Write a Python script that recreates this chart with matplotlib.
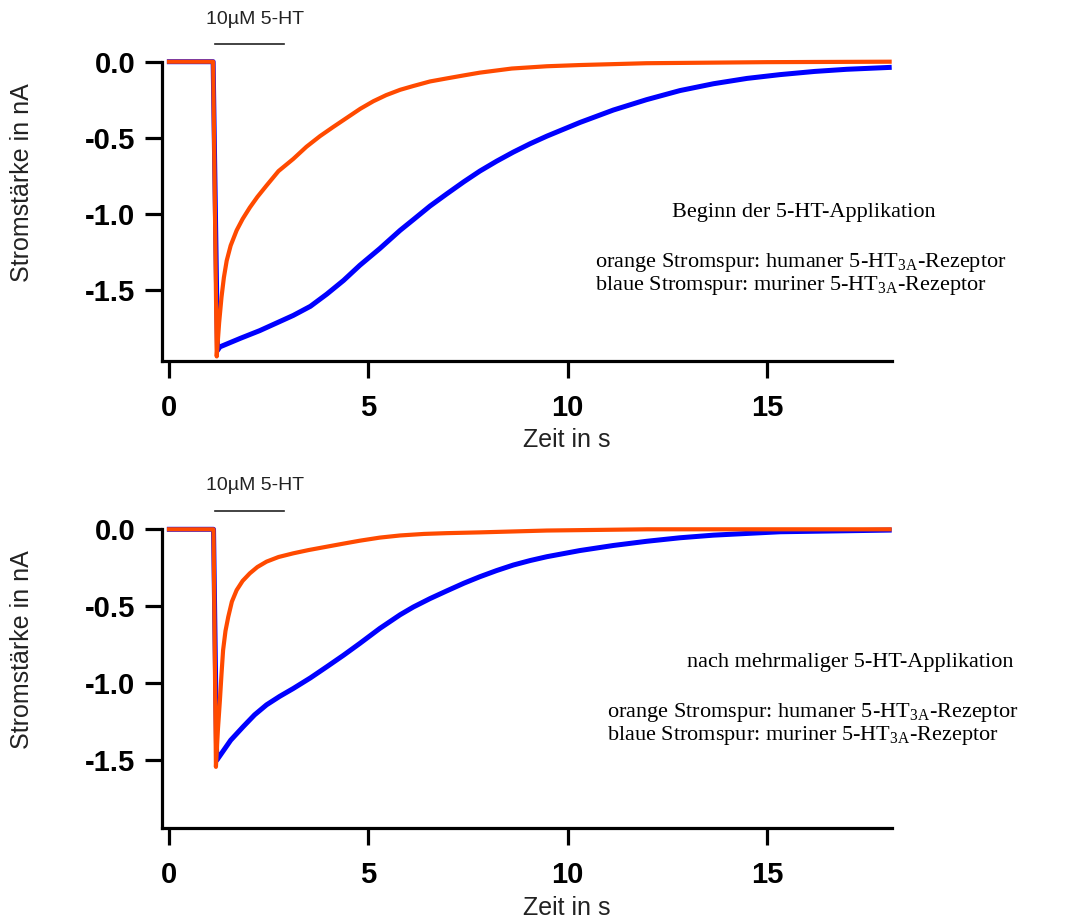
import numpy as np
import matplotlib.pyplot as plt

plt.rcParams['font.family'] = ['Liberation Sans', 'DejaVu Sans']
plt.rcParams['mathtext.fontset'] = 'custom'
plt.rcParams['mathtext.rm'] = 'Liberation Serif'

# application of 10 uM 5-HT (s)
app_start = 1.15
app_end = 2.9

# top panel: first application
t_hum_1 = [-0.05, 1.11, 1.20, 1.26, 1.32, 1.38, 1.45, 1.55, 1.70, 1.85, 2.03, 2.22, 2.45,
           2.75, 3.12, 3.45, 3.79, 4.12, 4.46, 4.80, 5.13, 5.45, 5.80, 6.13, 6.55, 6.97,
           7.40, 7.80, 8.6, 9.48, 10.31, 11.98, 15.0, 18.13]
i_hum_1 = [0.0, 0.0, -1.94, -1.72, -1.55, -1.42, -1.31, -1.21, -1.11, -1.035, -0.96, -0.89,
           -0.815, -0.72, -0.64, -0.56, -0.49, -0.43, -0.37, -0.31, -0.26, -0.22, -0.185,
           -0.16, -0.13, -0.11, -0.09, -0.072, -0.045, -0.03, -0.022, -0.01, -0.003, 0.0]
t_mur_1 = [-0.05, 1.11, 1.22, 1.28, 1.8, 2.28, 2.7, 3.12, 3.55, 3.96, 4.38, 4.79, 5.29,
           5.80, 6.13, 6.55, 6.97, 7.40, 7.80, 8.22, 8.64, 9.06, 9.48, 10.31, 11.15, 11.98,
           12.82, 13.66, 14.5, 15.33, 16.2, 17.0, 18.13]
i_mur_1 = [0.0, 0.0, -1.90, -1.877, -1.82, -1.77, -1.72, -1.67, -1.61, -1.53, -1.44, -1.34,
           -1.23, -1.11, -1.04, -0.95, -0.87, -0.79, -0.72, -0.655, -0.595, -0.54, -0.49,
           -0.40, -0.318, -0.25, -0.19, -0.145, -0.11, -0.085, -0.064, -0.05, -0.037]

# bottom panel: after repeated applications
t_hum_2 = [-0.05, 1.12, 1.18, 1.23, 1.28, 1.32, 1.36, 1.42, 1.49, 1.58, 1.70, 1.85, 2.03,
           2.22, 2.45, 2.75, 3.12, 3.50, 3.96, 4.38, 4.79, 5.29, 5.80, 6.40, 6.97, 7.80,
           9.48, 12.0, 18.13]
i_hum_2 = [0.0, 0.0, -1.543, -1.30, -1.11, -0.94, -0.785, -0.66, -0.568, -0.47, -0.395,
           -0.335, -0.286, -0.245, -0.21, -0.18, -0.156, -0.135, -0.113, -0.093, -0.074,
           -0.054, -0.04, -0.03, -0.025, -0.02, -0.008, 0.0, 0.0]
t_mur_2 = [-0.05, 1.12, 1.20, 1.26, 1.55, 1.86, 2.15, 2.45, 2.78, 3.12, 3.55, 3.96, 4.38,
           4.79, 5.29, 5.80, 6.13, 6.55, 6.97, 7.40, 7.80, 8.22, 8.64, 9.06, 9.48, 10.31,
           11.15, 11.98, 12.82, 13.66, 15.33, 18.13]
i_mur_2 = [0.0, 0.0, -1.50, -1.478, -1.37, -1.283, -1.205, -1.14, -1.085, -1.034, -0.965,
           -0.893, -0.818, -0.741, -0.644, -0.555, -0.505, -0.45, -0.40, -0.35, -0.308,
           -0.268, -0.232, -0.203, -0.178, -0.138, -0.105, -0.078, -0.055, -0.038, -0.016,
           -0.005]

yticks = [0.0, -0.5, -1.0, -1.5]
xticks = [0, 5, 10, 15]

W, H = 1074, 921
fig = plt.figure(figsize=(W / 100, H / 100), dpi=100)


def px(x, y):
    return x / W, 1 - y / H


def panel(rect, t_hum, i_hum, t_mur, i_mur, ymin, title, leg_x, title_x, y_title, y_leg1, y_leg2,
          y_app_txt, ylab_y, xlab_y):
    ax = fig.add_axes(rect)
    ax.plot(t_mur, i_mur, color='#0000ff', lw=3.6, clip_on=False, solid_capstyle='butt')
    ax.plot(t_hum, i_hum, color='#ff4a00', lw=3.0, clip_on=False, solid_capstyle='butt')
    ax.set_xlim(-0.18, 18.13)
    ax.set_ylim(ymin, 0)
    for s in ['top', 'right']:
        ax.spines[s].set_visible(False)
    for s in ['left', 'bottom']:
        ax.spines[s].set_linewidth(2.3)
    ax.set_xticks(xticks)
    ax.set_yticks(yticks)
    ax.set_yticklabels(['%.1f' % v for v in yticks])
    ax.tick_params(axis='both', direction='out', length=12, width=2.3, labelsize=21)
    ax.tick_params(axis='x', pad=12)
    ax.tick_params(axis='y', pad=7)
    for lab in ax.get_xticklabels() + ax.get_yticklabels():
        lab.set_fontweight('bold')
    # application bar
    ax.plot([app_start, app_end], [0.118, 0.118], color='#222222', lw=1.2, clip_on=False)
    fig.text(*px(255, y_app_txt), '10µM 5-HT', ha='center', va='center', fontsize=14,
             color='#222222')
    fig.text(*px(22, ylab_y), 'Stromstärke in nA', rotation=90, ha='center', va='center',
             fontsize=18, color='#222222')
    fig.text(*px(567, xlab_y), 'Zeit in s', ha='center', va='center', fontsize=18,
             color='#222222')
    fig.text(*px(title_x, y_title), title, ha='center', va='center', fontsize=16,
             family='Liberation Serif')
    fig.text(*px(leg_x, y_leg1), r'orange Stromspur: humaner 5-HT$_{\mathrm{3A}}$-Rezeptor',
             ha='left', va='center', fontsize=16, family='Liberation Serif')
    fig.text(*px(leg_x, y_leg2), r'blaue Stromspur: muriner 5-HT$_{\mathrm{3A}}$-Rezeptor',
             ha='left', va='center', fontsize=16, family='Liberation Serif')
    return ax


panel([161.7 / W, 1 - 361 / H, 730 / W, 299.3 / H], t_hum_1, i_hum_1, t_mur_1, i_mur_1,
      -1.97, 'Beginn der 5-HT-Applikation', 595, 804, 213, 263, 285, 20, 183, 440)
panel([161.7 / W, 1 - 828 / H, 730 / W, 298.7 / H], t_hum_2, i_hum_2, t_mur_2, i_mur_2,
      -1.94, 'nach mehrmaliger 5-HT-Applikation', 607, 850, 663, 712, 735, 485, 650, 908)

fig.savefig('out.png', dpi=100)
